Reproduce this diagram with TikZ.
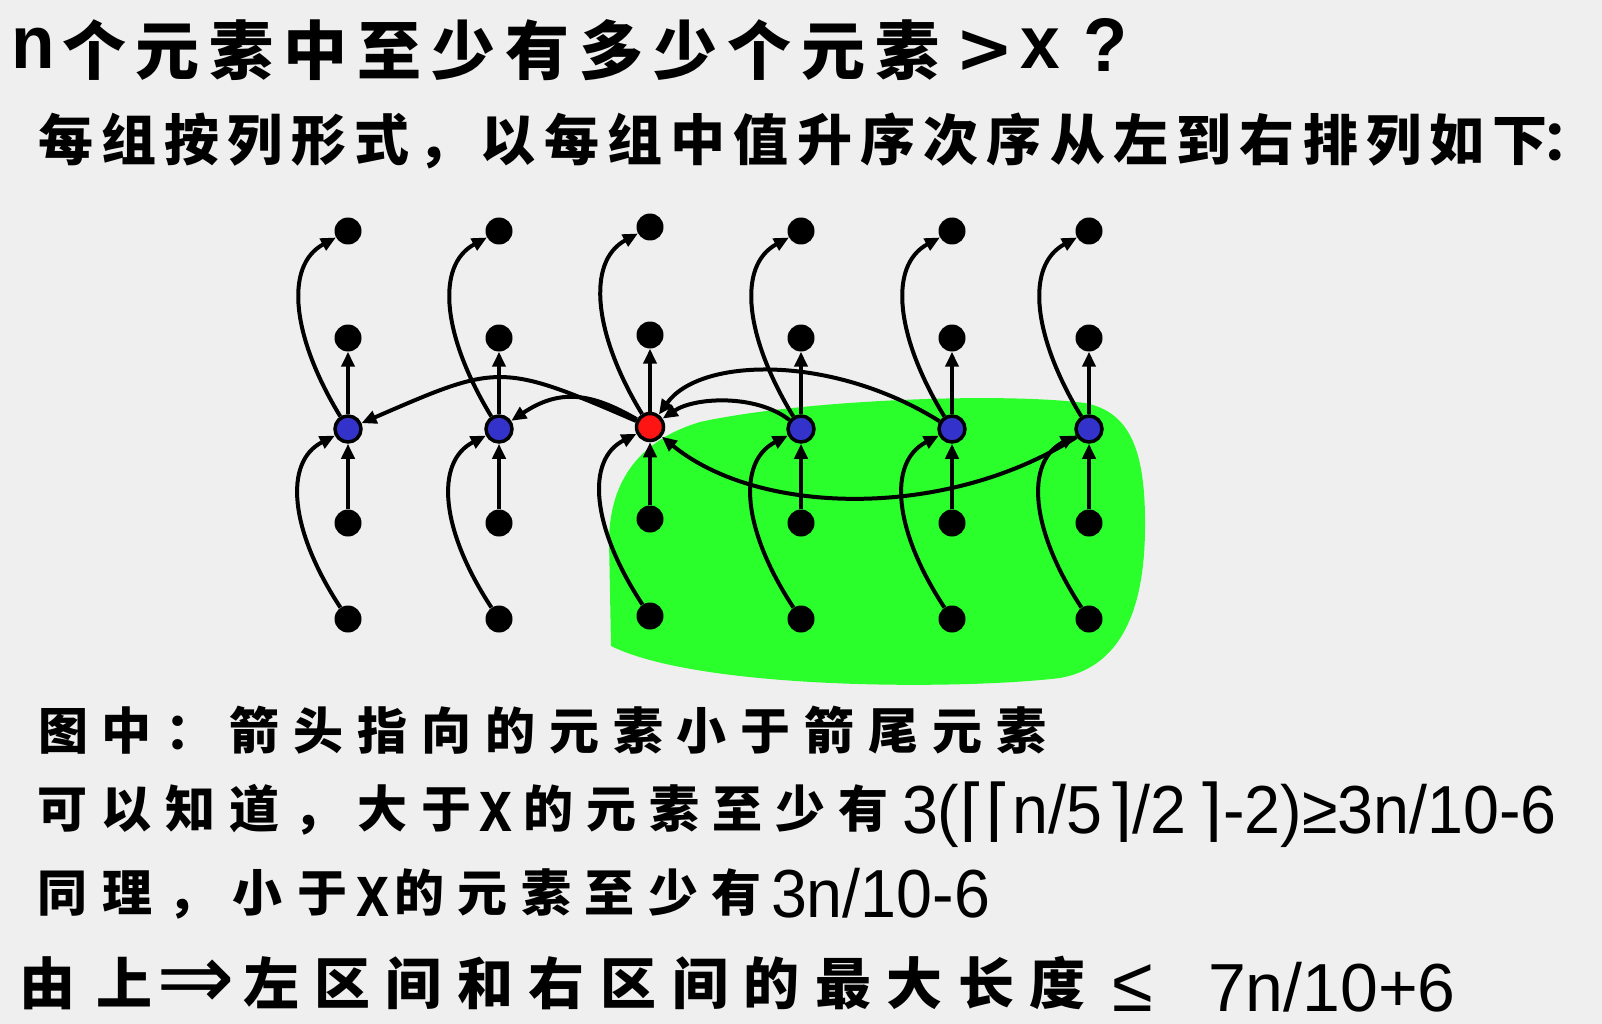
\documentclass[tikz,border=0pt]{standalone}
\usepackage{fontspec}
\setmainfont{Liberation Sans}
\newfontfamily\cjk{Noto Sans CJK SC}
\newfontfamily\lat[FakeStretch=0.95]{Liberation Sans}
\newfontfamily\latw{Liberation Sans}
\newfontfamily\latn[FakeStretch=0.8]{Liberation Sans}
\newfontfamily\djv{DejaVu Sans}
\usetikzlibrary{arrows.meta}
\definecolor{bgc}{RGB}{239,239,239}
\definecolor{blob}{RGB}{43,255,43}
\definecolor{midblue}{RGB}{51,51,204}
\definecolor{midred}{RGB}{255,20,20}
\newcommand\cjtext[3]{\fontsize{#1}{#1}\cjk\bfseries\addfontfeature{LetterSpace=#2}#3\kern-#2\dimexpr #1pt/100\relax}
\tikzset{
  txt/.style={anchor=base west, inner sep=0pt, outer sep=0pt},
  sym/.style={anchor=base west, inner sep=4pt, outer sep=0pt},
  dot/.style={circle, fill=black, minimum size=27pt, inner sep=0pt},
  midb/.style={circle, draw=black, line width=3.5pt, fill=midblue, minimum size=26pt, inner sep=0pt},
  midr/.style={circle, draw=black, line width=3.5pt, fill=midred, minimum size=27pt, inner sep=0pt},
  arr/.style={line width=4pt, -{Triangle[length=15pt,width=13pt]}}
}
\begin{document}
\begin{tikzpicture}[x=1pt,y=-1pt]
\fill[bgc] (0,0) rectangle (1602,1024);
\useasboundingbox (0,0) rectangle (1602,1024);
% green region
\fill[blob] (611,646) -- (609,540) .. controls (610,480) and (640,440) .. (700,422)
  .. controls (800,400) and (1000,392) .. (1085,403)
  .. controls (1130,412) and (1146,450) .. (1145,530)
  .. controls (1144,620) and (1115,668) .. (1060,678)
  .. controls (960,690) and (700,690) .. (611,646) -- cycle;
% nodes
\foreach \i/\x in {1/348,2/499,4/801,5/952,6/1089}{
  \node[dot] (t\i) at (\x,231) {};
  \node[dot] (r\i) at (\x,338) {};
  \node[dot] (s\i) at (\x,523) {};
  \node[dot] (b\i) at (\x,619) {};
}
\node[dot] (t3) at (650,227) {};
\node[dot] (r3) at (650,335) {};
\node[dot] (s3) at (650,519) {};
\node[dot] (b3) at (650,616) {};
\node[midb] (m1) at (348,429) {};
\node[midb] (m2) at (499,429) {};
\node[midr] (m3) at (650,427) {};
\node[midb] (m4) at (801,429) {};
\node[midb] (m5) at (952,429) {};
\node[midb] (m6) at (1089,429) {};
% column arrows
\foreach \i in {1,...,6}{
  \draw[arr] (b\i) .. controls +(-58,-88) and +(-65,33) .. (m\i);
  \draw[arr] (m\i) .. controls +(-55,-90) and +(-65,35) .. (t\i);
  \draw[arr] (s\i) -- (m\i);
  \draw[arr] (m\i) -- (r\i);
}
% row arrows
\draw[arr] (m3) .. controls +(-150,-65) and +(150,-65) .. (m1);
\draw[arr] (m3) .. controls +(-60,-35) and +(60,-40) .. (m2);
\draw[arr] (m4) .. controls +(-45,-35) and +(45,-30) .. (m3);
\draw[arr] (m5) .. controls +(-120,-75) and +(50,-70) .. (m3);
\draw[arr] (m6) .. controls +(-140,90) and +(110,90) .. (m3);
% texts
\node[txt] (tn) at (12,69) {\fontsize{75}{75}\lat\bfseries n};
\node[txt] (t1x) at (62,75) {\cjtext{64}{15.6}{个元素中至少有多少个元素}};
\node[txt] (tgt) at (955,73) {\fontsize{70}{70}\djv\bfseries >};
\node[txt] (tx) at (1020,69) {\fontsize{75}{75}\lat\bfseries x};
\node[txt] (tq) at (1083,72) {\fontsize{76}{76}\lat\bfseries ?};
\node[txt] (l2) at (38,161) {\cjtext{55}{15}{每组按列形式，以每组中值升序次序从左到右排列如下\kern-6pt：}};
\node[txt] (l3) at (38,749) {\cjtext{50}{27.8}{图中：箭头指向的元素小于箭尾元素}};
\node[txt] (l4a) at (37,827) {\cjtext{50}{28}{可以知道，大于}};
\node[txt] (l4x) at (479,831) {\fontsize{74}{74}\latn\bfseries x};
\node[txt] (l4b) at (523,827) {\cjtext{50}{26}{的元素至少有}};
\node[txt] (l4c) at (902,833) {\fontsize{68}{68}\lat 3({\djv ⌈⌈}n/5\kern4pt{\djv ⌉}/2\kern10pt{\djv ⌉}-2)≥3n/10-6};
\node[txt] (l5a) at (37,911) {\cjtext{50}{30}{同理，小于}};
\node[txt] (l5x) at (356,916) {\fontsize{74}{74}\latn\bfseries x};
\node[txt] (l5b) at (394,911) {\cjtext{50}{27.2}{的元素至少有}};
\node[txt] (l5c) at (771,917) {\fontsize{68}{68}\lat 3n/10-6};
\node[txt] (l6a) at (19,1004) {\cjtext{56}{37.5}{由上}};
\node[sym] (l6arr) at (152,1009) {\fontsize{94}{94}\djv ⇒};
\node[txt] (l6b) at (243,1004) {\cjtext{56}{27.7}{左区间和右区间的最大长度}};
\node[sym] (l6le) at (1108,1011) {\fontsize{78}{78}\lat ≤};
\node[txt] (l6c) at (1208,1011) {\fontsize{68}{68}\latw 7n/10+6};
\end{tikzpicture}
\end{document}
